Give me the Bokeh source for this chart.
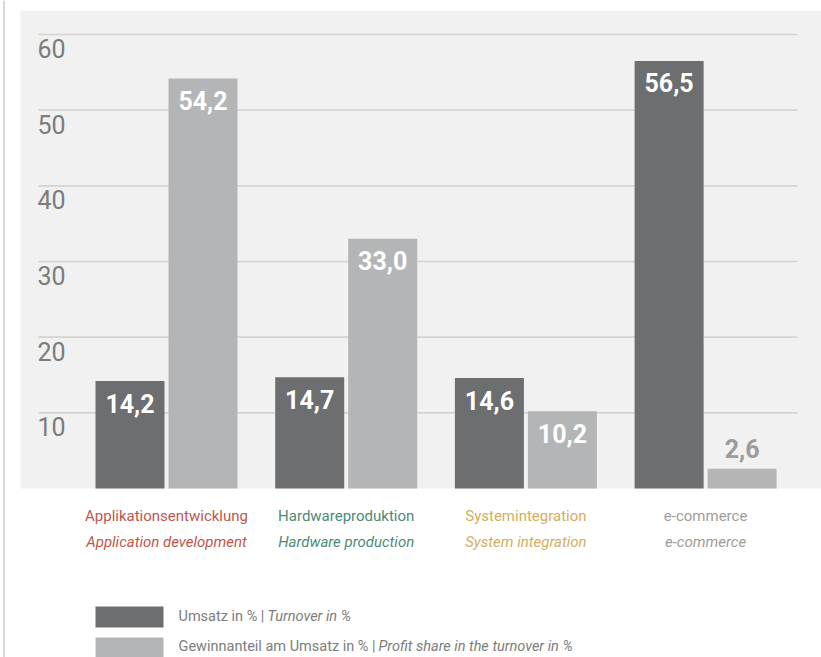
from bokeh.plotting import figure
from bokeh.models import Range1d, ColumnDataSource, BoxAnnotation, Span
from bokeh.core.properties import value
from bokeh.embed import file_html
from bokeh.resources import INLINE

# ---- data ----
categories_de = ["Applikationsentwicklung", "Hardwareproduktion", "Systemintegration", "e-commerce"]
categories_en = ["Application development", "Hardware production", "System integration", "e-commerce"]
turnover = [14.2, 14.7, 14.6, 56.5]
profit_share = [54.2, 33.0, 10.2, 2.6]
y_ticks = [10, 20, 30, 40, 50, 60]
legend_de = ["Umsatz in % | ", "Gewinnanteil am Umsatz in % | "]
legend_en = ["Turnover in %", "Profit share in the turnover in %"]

# ---- styles ----
cat_colors = ["#c0564b", "#4d8a77", "#d5ad5c", "#a19c97"]
DARK = "#6d6e70"
LIGHT = "#b4b5b6"
PANEL = "#f0f1f0"
GRID = "#d3d4d3"
TICK = "#7c7c7c"
FONT = value("Roboto")

W, H = 821, 657
PX_X = 179.7
PX_Y = 7.5667
X0 = -166 / PX_X
Y0 = -(H - 488) / PX_Y


def fx(px):
    return X0 + px / PX_X


def fy(px_top):
    return Y0 + (H - px_top) / PX_Y


p = figure(width=W, height=H, x_range=Range1d(X0, X0 + W / PX_X),
           y_range=Range1d(Y0, Y0 + H / PX_Y), output_backend="svg",
           toolbar_location=None, x_axis_location=None, y_axis_location=None,
           min_border=0, background_fill_color="white", border_fill_color="white")
p.outline_line_color = None
p.grid.visible = False

# panel
p.add_layout(BoxAnnotation(left=fx(20), right=fx(W + 20), bottom=0, top=fy(10),
                           fill_color=PANEL, fill_alpha=1, line_color=None, level="underlay"))
# left border line
p.add_layout(Span(location=fx(3.5), dimension="height", line_color="#cdcdcd", line_width=1.6))

# grid lines
p.segment(x0=fx(38), x1=fx(797), y0=y_ticks, y1=y_ticks, line_color=GRID, line_width=1.6)
p.text(x=fx(37), y=y_ticks, text=[str(t) for t in y_ticks], text_font=FONT,
       text_font_size="25px", text_color=TICK, text_baseline="middle", text_align="left",
       y_offset=14)

# bars
idx = list(range(len(categories_de)))
off = 36.5 / PX_X
bw = 69 / PX_X
src = ColumnDataSource(dict(
    xd=[i - off for i in idx], xl=[i + off for i in idx],
    turnover=turnover, profit=profit_share))
p.vbar(x="xd", top="turnover", bottom=0, width=bw, source=src, fill_color=DARK, line_color=None)
p.vbar(x="xl", top="profit", bottom=0, width=bw, source=src, fill_color=LIGHT, line_color=None)

# value labels
lx, ly, lt, lc, lo = [], [], [], [], []
for i in idx:
    for xo, v in ((-off, turnover[i]), (off, profit_share[i])):
        lx.append(i + xo)
        ly.append(v)
        lt.append(f"{v:.1f}".replace(".", ","))
        inside = v > 6
        lc.append("white" if inside else "#9c9c9c")
        lo.append(22 if inside else -20)
p.text(x=lx, y=ly, text=lt, text_color=lc, y_offset=lo, text_font=FONT,
       text_font_size="25px", text_font_style="bold", text_align="center",
       text_baseline="middle")

# category labels
p.text(x=idx, y=[0] * 4, text=categories_de, text_color=cat_colors, y_offset=27,
       text_font=FONT, text_font_size="15px", text_align="center", text_baseline="middle")
p.text(x=idx, y=[0] * 4, text=categories_en, text_color=cat_colors, y_offset=53,
       text_font=FONT, text_font_size="15px", text_font_style="italic",
       text_align="center", text_baseline="middle")

# legend
rows = [(606, 627, 616, DARK, 267), (637, 658, 646, LIGHT, 378)]
for (t, b, c, col, xit), de, en in zip(rows, legend_de, legend_en):
    p.quad(left=fx(95), right=fx(163), top=fy(t), bottom=fy(b), fill_color=col, line_color=None)
    p.text(x=fx(178), y=fy(c), text=[de], text_color=TICK, text_font=FONT,
           text_font_size="14.5px", text_baseline="middle", text_align="left")
    p.text(x=fx(xit), y=fy(c), text=[en], text_color=TICK, text_font=FONT,
           text_font_size="14.5px", text_font_style="italic", text_baseline="middle",
           text_align="left")

open("out.html", "w").write(file_html(p, INLINE))
